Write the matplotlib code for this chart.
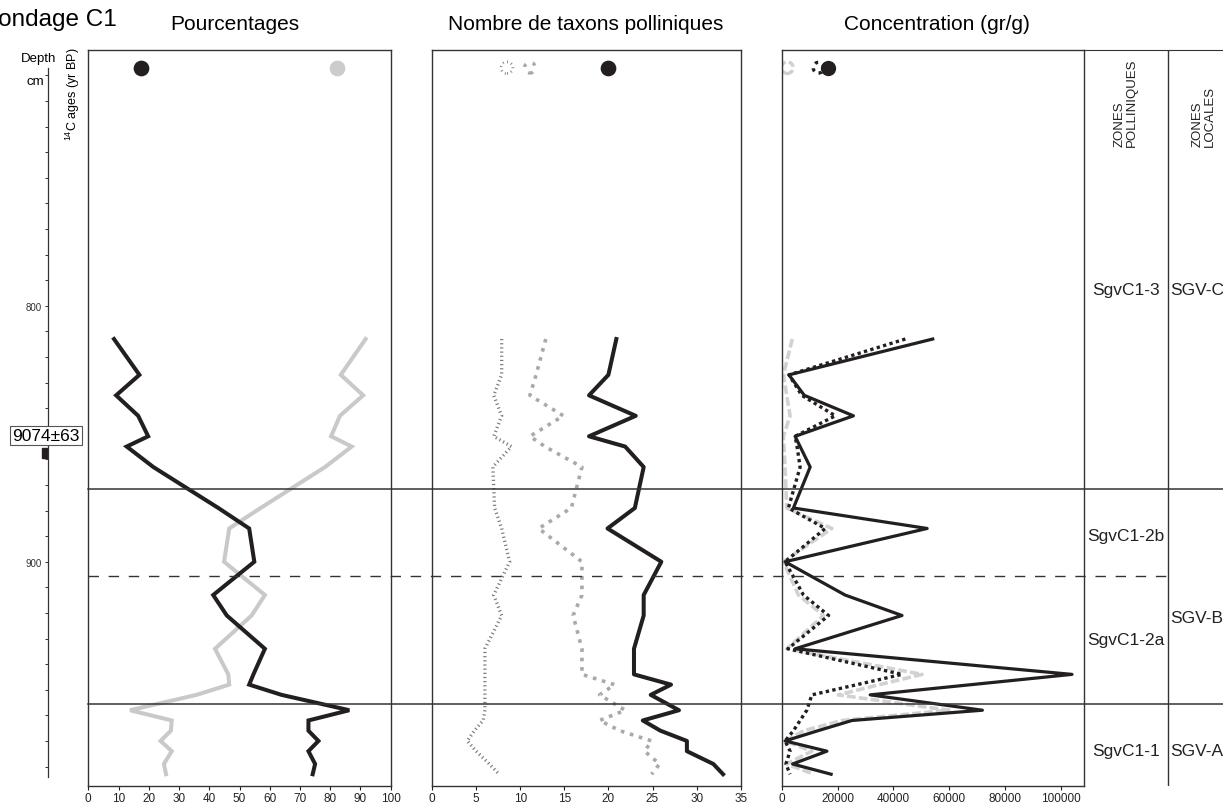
import numpy as np
import matplotlib
matplotlib.use("Agg")
import matplotlib.pyplot as plt
import matplotlib.transforms as mtransforms
from matplotlib.lines import Line2D
from matplotlib.patches import Rectangle

plt.rcParams['font.family'] = ['Liberation Sans', 'DejaVu Sans']
plt.rcParams['mathtext.fontset'] = 'custom'
plt.rcParams['mathtext.rm'] = 'Liberation Sans'

# profondeurs des echantillons (cm)
depth = [813, 827, 835, 843, 851, 855, 863, 879, 887, 900, 913, 921, 934,
         944, 948, 952, 958, 962, 966, 970, 974, 979, 983]

# pourcentages
pct_black = [8.5, 16.9, 9.2, 16.5, 19.8, 12.7, 21.5, 43.0, 53.2, 54.9, 41.3, 45.8,
             58.4, 54.6, 53.2, 63.9, 86.3, 72.8, 72.8, 76.1, 72.8, 75.0, 74.2]
pct_gray = [91.7, 83.5, 90.9, 83.2, 80.3, 87.1, 78.3, 57.0, 46.6, 44.9, 58.4, 54.0,
            41.9, 46.3, 46.6, 35.8, 13.8, 27.6, 27.3, 23.9, 27.6, 25.0, 25.7]

# nombre de taxons polliniques
taxa_black = [20.9, 20.0, 17.8, 23.1, 17.8, 21.9, 24.0, 23.0, 19.9, 26.0, 24.0, 24.0,
              22.9, 22.9, 27.1, 24.8, 28.0, 23.9, 25.9, 28.9, 28.9, 31.9, 33.0]
taxa_gray = [12.9, 11.8, 11.1, 14.9, 11.1, 12.8, 17.0, 15.8, 12.1, 17.0, 17.0, 16.0,
             17.0, 17.0, 20.7, 19.0, 21.9, 19.0, 21.3, 24.9, 24.1, 25.8, 24.9]
taxa_thin = [7.9, 7.9, 7.0, 7.9, 7.0, 9.0, 6.9, 7.1, 7.9, 8.8, 7.0, 7.9,
             6.0, 6.0, 6.0, 6.0, 6.0, 5.8, 4.8, 4.0, 5.0, 6.5, 7.6]

# concentration (gr/g)
conc_black = [54100, 2600, 8100, 25700, 4800, 6600, 10200, 4200, 52100, 1200, 22700, 43100,
              4800, 104000, 68000, 31700, 71900, 25200, 13000, 1200, 16200, 3900, 17700]
conc_dot = [44300, 2600, 7200, 19200, 4800, 5500, 6600, 2400, 15600, 1200, 7800, 16800,
            2200, 43100, 27000, 10800, 9000, 6600, 4200, 1200, 3000, 1500, 3000]
conc_gray = [3800, 600, 1800, 3000, 600, 800, 1200, 1800, 18000, 600, 6000, 15000,
             1800, 50300, 35000, 20300, 59900, 21600, 8000, 1200, 10800, 1700, 11600]

# limites de zones
zone_solid = [871.6, 955.6]
zone_dashed = [905.6]
zones_pol = ["SgvC1-3", "SgvC1-2b", "SgvC1-2a", "SgvC1-1"]
zones_pol_y = [793.5, 889.8, 930.2, 973.8]
zones_loc = ["SGV-C", "SGV-B", "SGV-A"]
zones_loc_y = [793.5, 921.7, 973.8]

W, H = 1223, 803
BLACK = '#231f20'
EDGE = '#333333'


def fx(px):
    return px / W


def fy(py):
    return 1 - py / H


fig = plt.figure(figsize=(W / 100, H / 100), dpi=100)
bot = fy(787)
hgt = fy(51) - bot
ylim = (987.6, 700.1)


def panel(x0, x1):
    ax = fig.add_axes([fx(x0), bot, fx(x1) - fx(x0), hgt])
    ax.set_ylim(*ylim)
    ax.set_yticks([])
    for s in ax.spines.values():
        s.set_color(EDGE)
        s.set_linewidth(1.0)
    ax.tick_params(axis='x', direction='out', length=3, width=0.8,
                   labelsize=8.5, pad=1.5, colors='#222222')
    return ax


# --- Pourcentages
ax1 = panel(88.3, 390.7)
ax1.set_xlim(0, 100)
ax1.set_xticks(np.arange(0, 101, 10))
ax1.plot(pct_gray, depth, color='#c9c9c9', lw=2.9, solid_joinstyle='miter')
ax1.plot(pct_black, depth, color=BLACK, lw=2.9, solid_joinstyle='miter')
ax1.plot(17.4, 707, 'o', ms=10.3, color=BLACK)
ax1.plot(82.4, 707, 'o', ms=10.3, color='#cccccc')

# --- Nombre de taxons
ax2 = panel(432, 740.7)
ax2.set_xlim(0, 35)
ax2.set_xticks(np.arange(0, 36, 5))
ax2.plot(taxa_thin, depth, color='#7a7a7a', lw=2.4, linestyle=(0, (0.35, 0.9)),
         dash_capstyle='butt')
ax2.plot(taxa_gray, depth, color='#a9a9a9', lw=2.6, linestyle=(0, (1, 1.6)),
         dash_capstyle='butt')
ax2.plot(taxa_black, depth, color=BLACK, lw=2.9)
ax2.scatter([8.5], [707], s=70, facecolors='none', edgecolors='#8a8a8a',
            linewidths=2.0, linestyle=(0, (0.35, 1.2)))
ax2.scatter([11.1], [707], s=60, facecolors='none', edgecolors='#a9a9a9',
            linewidths=2.4, linestyle=(0, (1, 2.2)))
ax2.plot(20.0, 707, 'o', ms=10.3, color=BLACK)

# --- Concentration
ax3 = panel(781.7, 1084)
ax3.set_xlim(0, 108300)
ax3.set_xticks(np.arange(0, 100001, 20000))
ax3.set_xticklabels([str(v) for v in range(0, 100001, 20000)])
ax3.plot(conc_gray, depth, color='#d2d2d2', lw=2.6, linestyle=(0, (2.4, 0.9)),
         dash_capstyle='butt')
ax3.plot(conc_dot, depth, color=BLACK, lw=2.4, linestyle=(0, (1, 1)),
         dash_capstyle='butt')
ax3.plot(conc_black, depth, color=BLACK, lw=2.3)
ax3.scatter([2000], [707], s=70, facecolors='none', edgecolors='#cfcfcf',
            linewidths=2.4, linestyle=(0, (2, 1)))
ax3.scatter([13200], [707], s=60, facecolors='none', edgecolors=BLACK,
            linewidths=2.4, linestyle=(0, (1, 1.6)))
ax3.plot(16700, 707, 'o', ms=10.0, color=BLACK)

# --- colonnes des zones
axz = fig.add_axes([fx(1084), bot, fx(1240) - fx(1084), hgt])
axz.set_xlim(1084, 1240)
axz.set_ylim(*ylim)
axz.set_xticks([])
axz.set_yticks([])
axz.patch.set_alpha(0)
for k in ['left', 'right', 'bottom']:
    axz.spines[k].set_visible(False)
axz.spines['top'].set_color(EDGE)
axz.axvline(1168.3, color=EDGE, lw=1.0)
for lab, d in zip(zones_pol, zones_pol_y):
    axz.text(1126, d, lab, ha='center', va='center', fontsize=12.5, color='#222222')
for lab, d in zip(zones_loc, zones_loc_y):
    axz.text(1170.5, d, lab, ha='left', va='center', fontsize=12.5, color='#222222')
axz.text(1126, 737.5, "ZONES\nPOLLINIQUES", rotation=90, ha='center', va='bottom',
         multialignment='left', fontsize=9.5, linespacing=1.0, color='#222222')
axz.text(1204, 737.5, "ZONES\nLOCALES", rotation=90, ha='center', va='bottom',
         multialignment='left', fontsize=9.5, linespacing=1.0, color='#222222')

# --- axe des profondeurs
ax0 = fig.add_axes([fx(48.3), bot, fx(40), hgt])
ax0.set_ylim(*ylim)
ax0.set_xlim(0, 40)
ax0.patch.set_alpha(0)
for k in ['right', 'top', 'bottom']:
    ax0.spines[k].set_visible(False)
ax0.spines['left'].set_bounds(707, 984)
ax0.spines['left'].set_color(EDGE)
ax0.spines['left'].set_linewidth(0.9)
ax0.set_xticks([])
ticks = list(range(710, 990, 10))
ax0.set_yticks(ticks)
ax0.set_yticklabels([str(t) if t in (800, 900) else '' for t in ticks])
ax0.tick_params(axis='y', direction='out', length=2.5, width=0.7,
                labelsize=7, pad=2, colors='#333333')
ax0.add_patch(Rectangle((-6, 855.5), 4.4, 3.9, color=BLACK, clip_on=False))
ax0.text(-2.3, 850.7, "9074±63", ha='center', va='center', fontsize=12.5,
         clip_on=False,
         bbox=dict(boxstyle='square,pad=0.12', fc='white', ec='#555555', lw=0.8))

# --- limites de zones en travers des panneaux
tr = mtransforms.blended_transform_factory(fig.transFigure, ax1.transData)
for d in zone_solid:
    fig.add_artist(Line2D([fx(88.3), 1.0], [d, d], transform=tr, color=EDGE, lw=1.1))
for d in zone_dashed:
    fig.add_artist(Line2D([fx(88.3), fx(1166.7)], [d, d], transform=tr, color=EDGE,
                          lw=1.0, linestyle=(0, (7.5, 7))))

# --- textes
fig.text(fx(117), fy(26), "Sondage C1", ha='right', va='baseline', fontsize=17.5)
fig.text(fx(235), fy(29.5), "Pourcentages", ha='center', va='baseline', fontsize=15)
fig.text(fx(586), fy(29.5), "Nombre de taxons polliniques", ha='center',
         va='baseline', fontsize=15)
fig.text(fx(937), fy(29.5), "Concentration (gr/g)", ha='center', va='baseline',
         fontsize=15)
fig.text(fx(39), fy(59), "Depth", ha='center', va='center', fontsize=9.5)
fig.text(fx(35), fy(82), "cm", ha='center', va='center', fontsize=9.5)
fig.text(fx(73), fy(48), "$^{14}$C ages (yr BP)", rotation=90, ha='center',
         va='top', fontsize=9)

fig.savefig("out.png", dpi=100)
